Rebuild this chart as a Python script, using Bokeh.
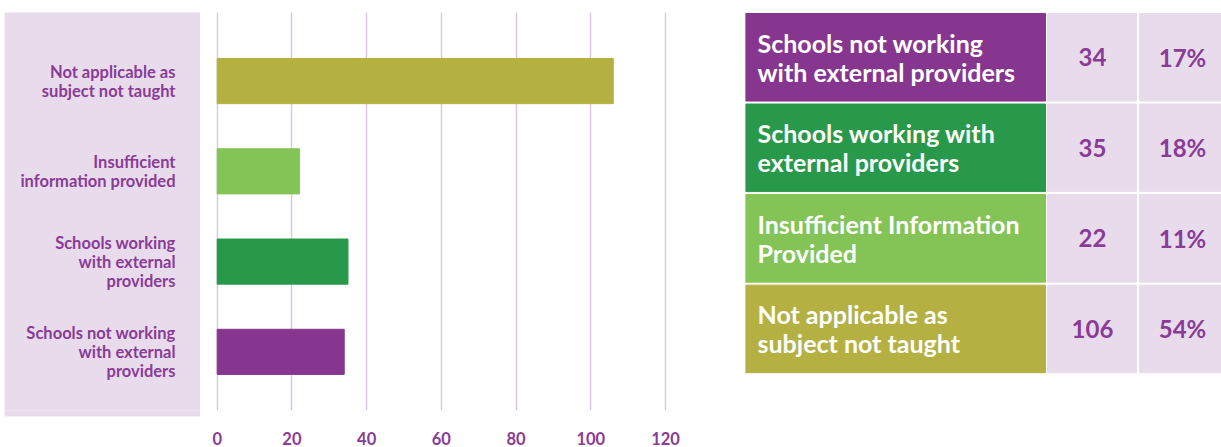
from bokeh.plotting import figure
from bokeh.layouts import row
from bokeh.models import Range1d, FixedTicker, ColumnDataSource, LinearAxis
from bokeh.core.properties import value
from bokeh.embed import file_html
from bokeh.resources import INLINE

# ---- data ----
chart_labels = [
    "Schools not working\nwith external\nproviders",
    "Schools working\nwith external\nproviders",
    "Insufficient\ninformation provided",
    "Not applicable as\nsubject not taught",
]
table_labels = [
    "Schools not working\nwith external providers",
    "Schools working with\nexternal providers",
    "Insufficient Information\nProvided",
    "Not applicable as\nsubject not taught",
]
counts = [34, 35, 22, 106]
percents = ["17%", "18%", "11%", "54%"]
colors = ["#86368F", "#28984A", "#84C456", "#B4B042"]
x_ticks = [0, 20, 40, 60, 80, 100, 120]

# ---- styles ----
LAV = "#E8DCEC"
PURPLE_TXT = "#8A3A97"
GRID = "#DCC6E2"
FONT = value("Lato")
H = 447

ypos = list(range(len(counts)))
Y0, Y1 = -0.65, 3.76
TOP, BOT = 12, 35
yr_chart = Range1d(Y0, Y1)

# ---- label panel ----
lf = figure(width=200, height=H, x_range=Range1d(0, 196), y_range=yr_chart,
            output_backend="svg", toolbar_location=None,
            x_axis_location=None, y_axis_location=None,
            min_border=0, min_border_left=4, min_border_top=TOP, min_border_bottom=BOT,
            background_fill_color=LAV, border_fill_color="white",
            outline_line_color=None)
lf.xgrid.visible = False
lf.ygrid.visible = False

# an invisible axis whose background extends the lavender panel below the frame
pad_axis = LinearAxis(ticker=FixedTicker(ticks=[98]), axis_line_color=None,
                      major_tick_line_color=None, minor_tick_line_color=None,
                      major_label_standoff=15, major_label_text_font_size="16.5px",
                      major_label_text_alpha=0)
if "background_fill_color" in LinearAxis.properties():
    pad_axis.background_fill_color = LAV
    pad_axis.background_fill_alpha = 1
else:
    lf.border_fill_color = LAV
lf.add_layout(pad_axis, "below")

lsrc = ColumnDataSource(dict(y=ypos, t=chart_labels, x=[171] * len(ypos)))
lf.text(x="x", y="y", text="t", source=lsrc, text_align="right",
        text_baseline="middle", text_font=FONT, text_font_style="bold",
        text_font_size="16.5px", text_color=PURPLE_TXT, text_line_height=0.95)

# ---- bar chart ----
p = figure(width=545, height=H, x_range=Range1d(-4.47, 141.4), y_range=yr_chart,
           output_backend="svg", toolbar_location=None, y_axis_location=None,
           min_border=0, min_border_top=TOP, min_border_bottom=BOT,
           outline_line_color=None, background_fill_color="white",
           border_fill_color="white")
src = ColumnDataSource(dict(y=ypos, right=counts, color=colors))
p.hbar(y="y", right="right", left=0, height=0.5, color="color", source=src)
p.xaxis.ticker = FixedTicker(ticks=x_ticks)
p.xaxis.axis_line_color = None
p.xaxis.major_tick_line_color = None
p.xaxis.minor_tick_line_color = None
p.xaxis.major_label_standoff = 15
p.xaxis.major_label_text_font = "Lato"
p.xaxis.major_label_text_font_style = "bold"
p.xaxis.major_label_text_font_size = "16.5px"
p.xaxis.major_label_text_color = PURPLE_TXT
p.xgrid.ticker = FixedTicker(ticks=x_ticks)
p.xgrid.grid_line_color = GRID
p.xgrid.grid_line_width = 1.5
p.ygrid.visible = False

# ---- table (y in page pixels from top) ----
TW = 476
tf = figure(width=TW, height=H, x_range=Range1d(0, TW), y_range=Range1d(H - BOT, TOP),
            output_backend="svg", toolbar_location=None,
            x_axis_location=None, y_axis_location=None,
            min_border=0, min_border_top=TOP, min_border_bottom=BOT,
            outline_line_color=None, background_fill_color="white",
            border_fill_color="white")
tf.xgrid.visible = False
tf.ygrid.visible = False
ROW_H, ROW_GAP, ROW_TOP = 88, 3, 13
n = len(counts)
tops = [ROW_TOP + (ROW_H + ROW_GAP) * i for i in range(n)]
bots = [t + ROW_H for t in tops]
mids = [t + ROW_H / 2 for t in tops]
tsrc = ColumnDataSource(dict(top=tops, bottom=bots, mid=mids, color=colors,
                             lab=table_labels, cnt=[str(c) for c in counts],
                             pct=percents))
tf.quad(left=0, right=300, top="top", bottom="bottom", color="color", source=tsrc)
tf.quad(left=302, right=391, top="top", bottom="bottom", color=LAV, source=tsrc)
tf.quad(left=394, right=TW, top="top", bottom="bottom", color=LAV, source=tsrc)
tf.text(x=12, y="mid", text="lab", source=tsrc, text_align="left",
        text_baseline="middle", text_font=FONT, text_font_style="bold",
        text_font_size="25px", text_color="white", text_line_height=0.97)
tf.text(x=347, y="mid", text="cnt", source=tsrc, text_align="center",
        text_baseline="middle", text_font=FONT, text_font_style="bold",
        text_font_size="24px", text_color=PURPLE_TXT)
tf.text(x=437, y="mid", text="pct", source=tsrc, text_align="center",
        text_baseline="middle", text_font=FONT, text_font_style="bold",
        text_font_size="24px", text_color=PURPLE_TXT)

layout = row(lf, p, tf)
open("out.html", "w").write(file_html(layout, INLINE))
